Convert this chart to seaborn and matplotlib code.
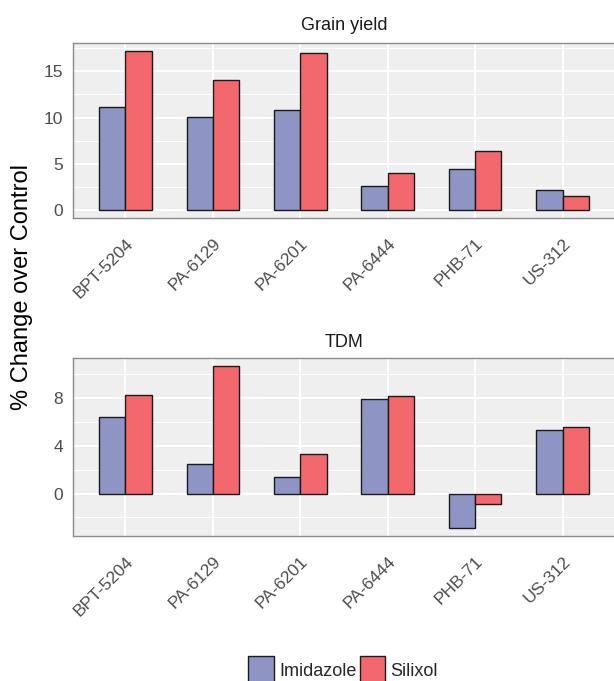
import matplotlib
matplotlib.use("Agg")
import matplotlib.pyplot as plt
import seaborn as sns
import pandas as pd
import numpy as np
from matplotlib.patches import Patch
from matplotlib.ticker import MultipleLocator

# ---- data ----
genotypes = ["BPT-5204", "PA-6129", "PA-6201", "PA-6444", "PHB-71", "US-312"]
treatments = ["Imidazole", "Silixol"]
grain_imidazole = [11.1, 10.1, 10.8, 2.6, 4.4, 2.2]
grain_silixol = [17.2, 14.1, 17.0, 4.0, 6.4, 1.55]
tdm_imidazole = [6.45, 2.5, 1.4, 7.9, -2.85, 5.3]
tdm_silixol = [8.25, 10.65, 3.35, 8.15, -0.9, 5.55]
panel_titles = ["Grain yield", "TDM"]
y_label = "% Change over Control"

colors = {"Imidazole": "#8E94C4", "Silixol": "#F2686C"}


def long_df(imid, sil):
    rows = []
    for g, a, b in zip(genotypes, imid, sil):
        rows.append({"Genotype": g, "Treatment": "Imidazole", "Value": a})
        rows.append({"Genotype": g, "Treatment": "Silixol", "Value": b})
    return pd.DataFrame(rows)


df_grain = long_df(grain_imidazole, grain_silixol)
df_tdm = long_df(tdm_imidazole, tdm_silixol)

sns.set_style("white")
plt.rcParams["font.family"] = ["Liberation Sans", "DejaVu Sans"]

fig = plt.figure(figsize=(6.14, 6.81), dpi=100)
W, H = 614, 681


def ax_rect(l, r, t, b):
    return [l / W, 1 - b / H, (r - l) / W, (b - t) / H]


ax1 = fig.add_axes(ax_rect(73, 615, 43, 218))
ax2 = fig.add_axes(ax_rect(73, 615, 358.3, 535.7))

setups = [
    (ax1, df_grain, panel_titles[0], 5, 2.5, 9.5),
    (ax2, df_tdm, panel_titles[1], 4, 2, 8),
]

for ax, df, title, major, minor, pad in setups:
    ax.set_facecolor("#EFEFEF")
    sns.barplot(data=df, x="Genotype", y="Value", hue="Treatment",
                order=genotypes, hue_order=treatments, palette=colors,
                saturation=1, width=0.6, edgecolor="#1A1A1A", linewidth=1.0,
                errorbar=None, ax=ax, zorder=3)
    if ax.get_legend() is not None:
        ax.get_legend().remove()
    vals = df["Value"].values
    lo, hi = min(0, vals.min()), max(0, vals.max())
    span = hi - lo
    ax.set_ylim(lo - 0.05 * span, hi + 0.05 * span)
    ax.set_xlim(-0.6, len(genotypes) - 0.4)
    ax.yaxis.set_major_locator(MultipleLocator(major))
    ax.yaxis.set_minor_locator(MultipleLocator(minor))
    ax.grid(which="major", axis="both", color="white", linewidth=1.5, zorder=0)
    ax.grid(which="minor", axis="y", color="white", linewidth=0.75, zorder=0)
    ax.set_axisbelow(True)
    for s in ax.spines.values():
        s.set_visible(True)
        s.set_color("#8C8C8C")
        s.set_linewidth(1.0)
    ax.tick_params(axis="both", which="major", length=4, width=0.9,
                   color="#333333", labelcolor="#4D4D4D", labelsize=12.5,
                   direction="out", pad=3)
    ax.tick_params(axis="y", which="minor", length=0)
    ax.tick_params(axis="x", pad=9)
    ax.set_xticks(range(len(genotypes)))
    ax.set_xticklabels(genotypes, rotation=45, ha="right", va="top",
                       rotation_mode="anchor")
    ax.set_xlabel("")
    ax.set_ylabel("")
    ax.set_title(title, fontsize=13, color="#1A1A1A", pad=pad)

fig.text(0.036, 0.579, y_label, rotation=90, ha="center", va="center",
         fontsize=17, color="black")

handles = [Patch(facecolor=colors[t], edgecolor="#1A1A1A", linewidth=1.0, label=t)
           for t in treatments]
fig.legend(handles=handles, loc="center", bbox_to_anchor=(0.559, 0.016),
           ncol=2, frameon=False, fontsize=13, handlelength=1.4,
           handleheight=2.0, handletextpad=0.3, columnspacing=0.2,
           borderaxespad=0, borderpad=0)

fig.savefig("out.png", dpi=100)
